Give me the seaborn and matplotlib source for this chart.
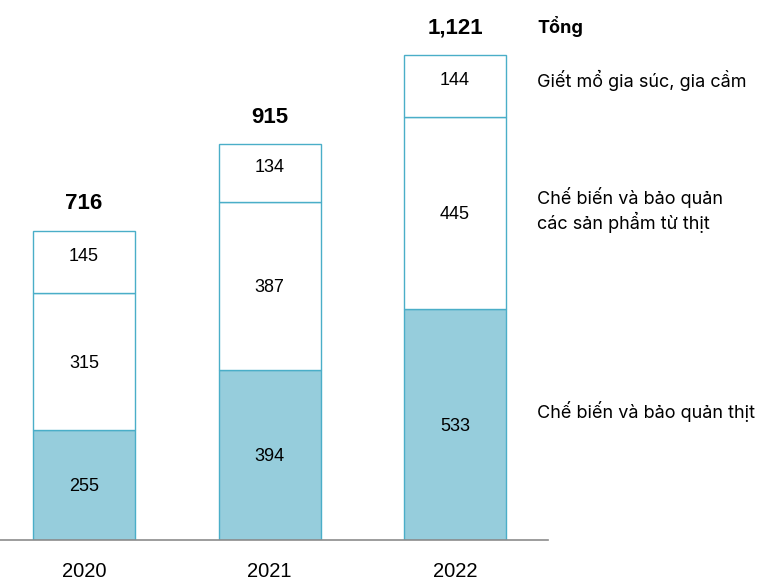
import seaborn as sns
import matplotlib.pyplot as plt
import numpy as np

years = ['2020', '2021', '2022']
thit = [255, 394, 533]
san_pham = [315, 387, 445]
giet_mo = [145, 134, 144]
totals = [716, 915, 1121]

fill_c = '#96cddc'
edge_c = '#4aaec8'

sns.set_style('white')
plt.rcParams['font.family'] = ['Liberation Sans', 'DejaVu Sans']
plt.rcParams['text.color'] = 'black'
plt.rcParams['xtick.color'] = 'black'

fig = plt.figure(figsize=(7.67, 5.88), dpi=100)
ax = fig.add_axes([0, 48 / 588, 548 / 767, 540 / 588])

bottom2 = np.array(thit)
bottom3 = bottom2 + np.array(san_pham)
sns.barplot(x=years, y=thit, color=fill_c, saturation=1, width=0.55,
            edgecolor=edge_c, linewidth=1, ax=ax)
sns.barplot(x=years, y=san_pham, bottom=bottom2, color='white', saturation=1,
            width=0.55, edgecolor=edge_c, linewidth=1, ax=ax)
sns.barplot(x=years, y=giet_mo, bottom=bottom3, color='white', saturation=1,
            width=0.55, edgecolor=edge_c, linewidth=1, ax=ax)

for i in range(len(years)):
    ax.text(i, thit[i] / 2 - 4, str(thit[i]), ha='center', va='center', fontsize=13)
    ax.text(i, bottom2[i] + san_pham[i] / 2 - 4, str(san_pham[i]), ha='center', va='center', fontsize=13)
    ax.text(i, bottom3[i] + giet_mo[i] / 2 + 13, str(giet_mo[i]), ha='center', va='center', fontsize=13)
    ax.text(i, totals[i] + 62, f'{totals[i]:,}', ha='center', va='center',
            fontsize=16, fontweight='bold')

ax.set_xlim(-0.453, 2.501)
ax.set_ylim(0, 1248)
ax.set_yticks([])
ax.set_xlabel('')
ax.set_ylabel('')
for s in ['top', 'right', 'left']:
    ax.spines[s].set_visible(False)
ax.spines['bottom'].set_color('#8c8c8c')
ax.spines['bottom'].set_linewidth(1.2)
ax.tick_params(axis='x', length=0, pad=16, labelsize=14.5)

lab_font = ['Inter', 'DejaVu Sans']
fig.text(537 / 767, 1 - 27 / 588, 'Tổng', fontsize=13, fontweight='bold',
         family=lab_font, va='center', ha='left')
fig.text(537 / 767, 1 - 80 / 588, 'Giết mổ gia súc, gia cầm', fontsize=13,
         family=lab_font, va='center', ha='left')
fig.text(537 / 767, 1 - 210 / 588, 'Chế biến và bảo quản\ncác sản phẩm từ thịt',
         fontsize=13, family=lab_font, va='center', ha='left', linespacing=1.2)
fig.text(537 / 767, 1 - 412 / 588, 'Chế biến và bảo quản thịt', fontsize=13,
         family=lab_font, va='center', ha='left')

fig.savefig('out.png', dpi=100)
